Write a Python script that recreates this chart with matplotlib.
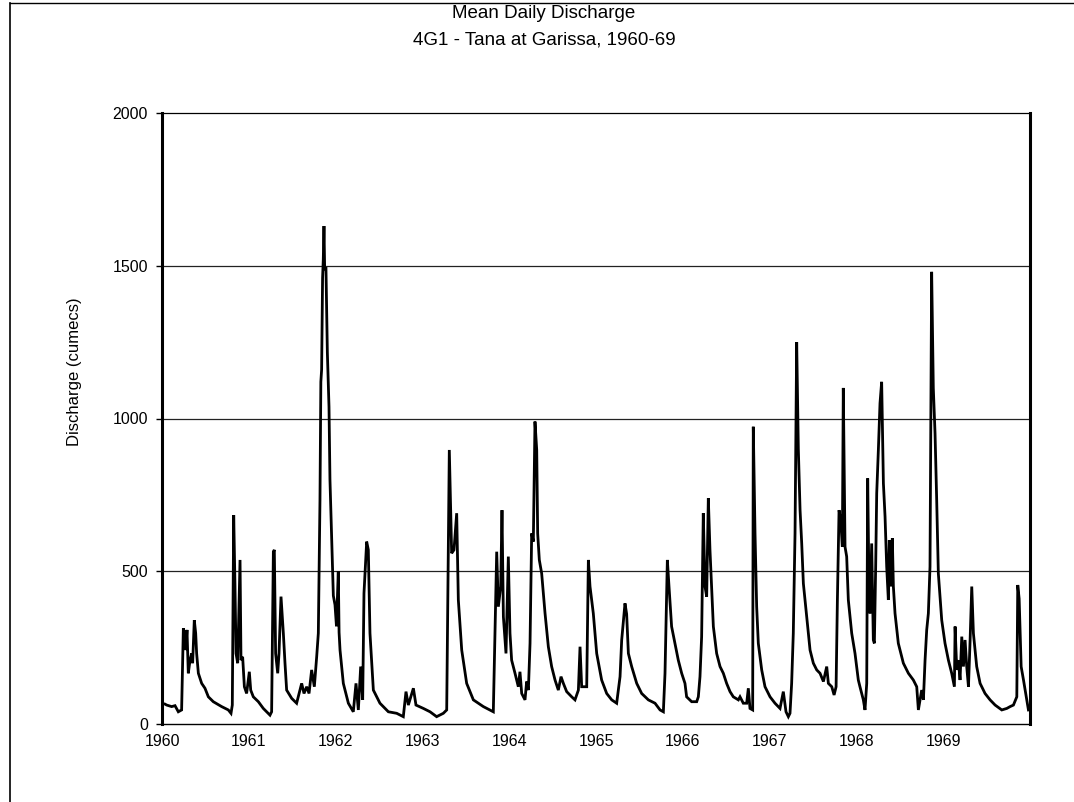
import matplotlib.pyplot as plt
from matplotlib.lines import Line2D

# mean daily discharge (decimal year offset from 1960, cumecs)
t = [0.035, 0.054, 0.111, 0.150, 0.188, 0.226, 0.246, 0.257, 0.273, 0.288,
     0.303, 0.323, 0.342, 0.353, 0.372, 0.388, 0.399, 0.419, 0.457, 0.495,
     0.534, 0.591, 0.687, 0.764, 0.795, 0.810, 0.826, 0.841, 0.853, 0.872,
     0.899, 0.910, 0.929, 0.949, 0.975, 1.006, 1.022, 1.052, 1.110, 1.167,
     1.244, 1.263, 1.283, 1.294, 1.309, 1.333, 1.348, 1.371, 1.398, 1.417,
     1.436, 1.494, 1.551, 1.609, 1.636, 1.667, 1.694, 1.724, 1.755, 1.782,
     1.801, 1.820, 1.830, 1.839, 1.850, 1.858, 1.866, 1.874, 1.889, 1.905,
     1.924, 1.935, 1.955, 1.974, 1.993, 2.010, 2.031, 2.040, 2.051, 2.089,
     2.147, 2.204, 2.235, 2.262, 2.289, 2.312, 2.327, 2.358, 2.377, 2.396,
     2.435, 2.511, 2.608, 2.704, 2.780, 2.811, 2.838, 2.896, 2.926, 3.011,
     3.088, 3.164, 3.241, 3.280, 3.310, 3.337, 3.364, 3.395, 3.414, 3.453,
     3.510, 3.587, 3.702, 3.817, 3.856, 3.875, 3.902, 3.917, 3.933, 3.963,
     3.990, 4.009, 4.028, 4.067, 4.105, 4.124, 4.144, 4.182, 4.201, 4.221,
     4.240, 4.259, 4.278, 4.297, 4.317, 4.328, 4.347, 4.374, 4.413, 4.451,
     4.489, 4.528, 4.566, 4.597, 4.624, 4.662, 4.720, 4.758, 4.797, 4.816,
     4.835, 4.893, 4.912, 4.931, 4.969, 5.008, 5.065, 5.123, 5.181, 5.238,
     5.277, 5.296, 5.334, 5.353, 5.373, 5.411, 5.469, 5.526, 5.603, 5.680,
     5.738, 5.776, 5.795, 5.822, 5.841, 5.871, 5.910, 5.948, 5.987, 6.025,
     6.044, 6.102, 6.160, 6.179, 6.198, 6.217, 6.236, 6.256, 6.275, 6.294,
     6.313, 6.332, 6.352, 6.390, 6.429, 6.467, 6.505, 6.544, 6.582, 6.640,
     6.659, 6.697, 6.736, 6.755, 6.774, 6.805, 6.812, 6.832, 6.851, 6.870,
     6.909, 6.947, 7.005, 7.062, 7.120, 7.158, 7.189, 7.216, 7.235, 7.254,
     7.273, 7.293, 7.312, 7.331, 7.351, 7.370, 7.389, 7.428, 7.466, 7.504,
     7.543, 7.581, 7.620, 7.658, 7.677, 7.716, 7.743, 7.766, 7.781, 7.800,
     7.819, 7.838, 7.849, 7.869, 7.888, 7.907, 7.946, 7.984, 8.022, 8.041,
     8.080, 8.099, 8.119, 8.130, 8.145, 8.157, 8.176, 8.195, 8.207, 8.222,
     8.234, 8.253, 8.272, 8.291, 8.311, 8.330, 8.349, 8.368, 8.379, 8.399,
     8.414, 8.426, 8.445, 8.483, 8.541, 8.599, 8.656, 8.695, 8.714, 8.733,
     8.752, 8.772, 8.791, 8.810, 8.829, 8.848, 8.867, 8.886, 8.906, 8.925,
     8.944, 8.983, 9.021, 9.060, 9.098, 9.129, 9.137, 9.156, 9.175, 9.194,
     9.214, 9.233, 9.252, 9.271, 9.291, 9.310, 9.329, 9.348, 9.386, 9.425,
     9.482, 9.540, 9.598, 9.675, 9.733, 9.771, 9.809, 9.848, 9.859, 9.875,
     9.898, 9.925, 9.963, 9.982]

q = [65, 62, 57, 60, 40, 46, 313, 297, 242, 308,
     166, 209, 231, 199, 340, 297, 231, 166, 133, 117,
     89, 73, 57, 46, 35, 62, 684, 450, 231, 199,
     537, 209, 220, 122, 100, 171, 111, 89, 73, 51,
     29, 40, 564, 570, 231, 166, 231, 417, 297, 199,
     111, 84, 68, 133, 100, 122, 100, 177, 122, 220,
     297, 733, 1120, 1160, 1460, 1520, 1630, 1490, 1491, 1216,
     1038, 800, 600, 420, 390, 320, 500, 300, 242, 133,
     68, 40, 133, 46, 188, 79, 428, 597, 570, 297,
     111, 68, 40, 35, 24, 106, 62, 117, 62, 51,
     40, 24, 35, 46, 897, 559, 570, 690, 406, 242,
     133, 79, 57, 40, 564, 384, 450, 700, 351, 231,
     548, 297, 209, 166, 122, 171, 100, 79, 139, 111,
     264, 624, 597, 990, 897, 624, 537, 493, 362, 253,
     188, 144, 111, 155, 133, 106, 89, 79, 111, 253,
     122, 122, 537, 450, 362, 231, 144, 100, 79, 68,
     155, 275, 395, 360, 231, 188, 133, 100, 79, 68,
     46, 40, 166, 537, 450, 319, 264, 209, 166, 133,
     89, 73, 73, 89, 155, 286, 690, 450, 417, 739,
     570, 450, 319, 231, 188, 166, 133, 106, 89, 79,
     89, 68, 68, 117, 51, 46, 973, 624, 384, 264,
     177, 122, 89, 68, 51, 106, 40, 24, 35, 133,
     297, 624, 1250, 900, 700, 591, 460, 351, 242, 199,
     177, 166, 139, 188, 133, 122, 95, 122, 406, 700,
     668, 580, 1100, 580, 548, 406, 297, 231, 144, 122,
     79, 46, 133, 804, 450, 362, 591, 275, 264, 515,
     755, 897, 1050, 1120, 788, 679, 515, 406, 602, 450,
     608, 450, 362, 264, 199, 166, 144, 122, 46, 79,
     111, 79, 209, 308, 362, 515, 1480, 1100, 951, 733,
     493, 340, 264, 209, 166, 122, 319, 177, 209, 144,
     286, 188, 275, 188, 122, 275, 450, 297, 188, 133,
     100, 79, 62, 46, 51, 57, 62, 89, 455, 410,
     188, 144, 79, 46]

years = [1960, 1961, 1962, 1963, 1964, 1965, 1966, 1967, 1968, 1969]
y_ticks = [0, 500, 1000, 1500, 2000]

plt.rcParams['font.family'] = ['Liberation Sans', 'DejaVu Sans']

fig = plt.figure(figsize=(10.74, 8.02), dpi=100)
ax = fig.add_axes([162/1074, 1 - 724/802, (1030-162)/1074, (724-113)/802])

x = [1960 + v for v in t]
ax.plot(x, q, color='black', lw=2.0, solid_joinstyle='miter')

ax.set_xlim(1960, 1970)
ax.set_ylim(0, 2000)
ax.set_xticks(years)
ax.set_xticklabels([str(y) for y in years], fontsize=11.5)
ax.set_yticks(y_ticks)
ax.set_yticklabels([str(v) for v in y_ticks], fontsize=11.5)
ax.tick_params(axis='y', length=4, width=1, pad=6)
ax.tick_params(axis='x', length=0, pad=7)

for v in [500, 1000, 1500]:
    ax.axhline(v, color='#222222', lw=0.9, zorder=0)

ax.spines['left'].set_linewidth(2.2)
ax.spines['right'].set_linewidth(2.2)
ax.spines['top'].set_linewidth(0.9)
ax.spines['bottom'].set_linewidth(1.0)

fig.text(75/1074, 1 - 372/802, 'Discharge (cumecs)', rotation=90, ha='center', va='center', fontsize=12)

fig.text(544/1074, 1 - 14/802, 'Mean Daily Discharge', ha='center', va='center', fontsize=13.5)
fig.text(544/1074, 1 - 40/802, '4G1 - Tana at Garissa, 1960-69', ha='center', va='center', fontsize=13.5)

# outer frame (left and top edges only, as in the scan)
fig.add_artist(Line2D([10/1074, 10/1074], [0, 1 - 3/802], transform=fig.transFigure, color='black', lw=1.2))
fig.add_artist(Line2D([10/1074, 1], [1 - 3/802, 1 - 3/802], transform=fig.transFigure, color='black', lw=1.0))

fig.savefig('out.png', dpi=100)
